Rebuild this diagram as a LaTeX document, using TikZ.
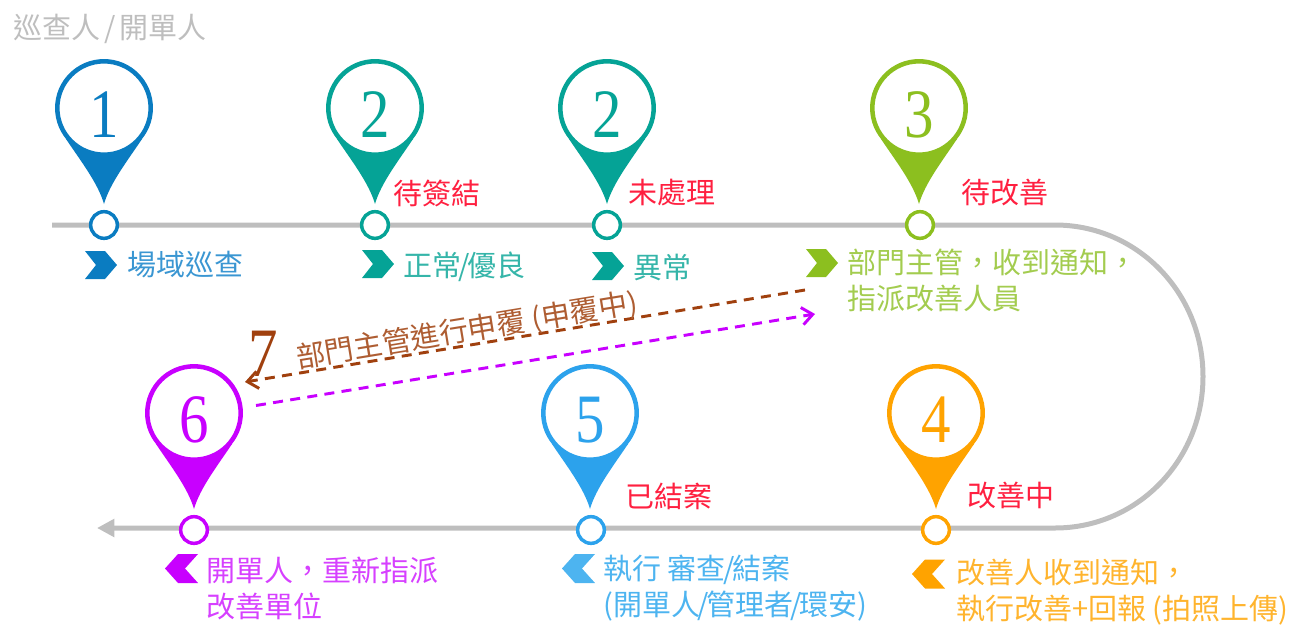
\documentclass[tikz,border=0pt]{standalone}
\usepackage{fontspec}
\usepackage{xcolor}
\setmainfont{Liberation Serif}
\newfontfamily\cjk{Noto Sans CJK TC}
\usetikzlibrary{positioning,calc,arrows.meta}
\definecolor{pinblue}{HTML}{0A7CC1}
\definecolor{pinteal}{HTML}{05A396}
\definecolor{pingreen}{HTML}{8CBF1F}
\definecolor{pinorange}{HTML}{FFA300}
\definecolor{pinsky}{HTML}{2CA2EC}
\definecolor{pinpurple}{HTML}{C800FF}
\definecolor{textblue}{HTML}{3A96D2}
\definecolor{textteal}{HTML}{35B5A9}
\definecolor{textgreen}{HTML}{A3CC4F}
\definecolor{textsky}{HTML}{4DB4F0}
\definecolor{textpurple}{HTML}{D640FF}
\definecolor{textorange}{HTML}{FFB42E}
\definecolor{appealbrown}{HTML}{A0400E}
\definecolor{statusred}{HTML}{FF2040}
\definecolor{linegray}{HTML}{BEBEBE}
\newcommand{\thinslash}{\kern-1.9pt/\kern-1.9pt}
\tikzset{
    timeline/.style={line width=3.75pt, color=linegray},
    ringdot/.style={circle, draw=#1, line width=2.6pt, fill=white, minimum size=20pt, inner sep=0pt},
    pinnum/.style={font=\fontsize{52}{52}\selectfont, text=#1, xscale=0.85, inner sep=0pt},
    cjklabel/.style={font=\cjk\fontsize{21.75}{27}\selectfont, anchor=west, inner sep=0pt},
    status/.style={cjklabel, text=statusred},
    caption/.style={cjklabel, align=left, text=#1},
    appeal/.style={line width=2.2pt, dash pattern=on 7.5pt off 5.5pt, -{Straight Barb[length=8pt,width=13pt]}}
}
\begin{document}
\begin{tikzpicture}[x=0.75pt, y=-0.75pt]
    \useasboundingbox (0,0) rectangle (1300,636);

    % Timeline
    \coordinate (lineStart) at (52,225);
    \coordinate (bendTop) at (1055,225);
    \coordinate (bendRight) at (1203,376.5);
    \coordinate (bendBottom) at (1055,528);
    \coordinate (lineEnd) at (97,528);
    \draw[timeline, -{Triangle[length=13pt,width=13pt]}] (lineStart) -- (bendTop)
        .. controls (1137,225) and (1203,292.5) .. (bendRight)
        .. controls (1203,460.5) and (1137,528) .. (bendBottom) -- (lineEnd);

    % Pins
    \foreach \id/\px/\py/\ringx/\ringy/\col/\num in {
        a/104/108/104/225/pinblue/1,
        b/375/108/375/225/pinteal/2,
        c/607/108/607/225/pinteal/2,
        d/919/108/920/225/pingreen/3,
        e/936/413/936/530/pinorange/4,
        f/590/413/591/530/pinsky/5,
        g/194/413/194/530/pinpurple/6} {
        \fill[\col] (\px-38,\py+31) .. controls (\px-24,\py+52) and (\px-6,\py+75) .. (\px,\py+96)
            .. controls (\px+6,\py+75) and (\px+24,\py+52) .. (\px+38,\py+31) -- cycle;
        \draw[\col, line width=3.4pt, fill=white] (\px,\py) circle[radius=46.7];
        \node[pinnum=\col] (num\id) at (\px,\py+7) {\num};
        \node[ringdot=\col] (ring\id) at (\ringx,\ringy) {};
    }

    % Chevrons
    \foreach \x/\y/\col in {85/265/pinblue, 362/264/pinteal, 592/266/pinteal, 806/263/pingreen} {
        \fill[\col] (\x,\y-14) -- (\x+20,\y-14) -- (\x+32,\y) -- (\x+20,\y+14) -- (\x,\y+14) -- (\x+11,\y) -- cycle;
    }
    \foreach \x/\y/\col in {198/568.5/pinpurple, 595/568.5/textsky, 945/574/pinorange} {
        \fill[\col] (\x,\y-14.5) -- (\x-20,\y-14.5) -- (\x-33,\y) -- (\x-20,\y+14.5) -- (\x,\y+14.5) -- (\x-13,\y) -- cycle;
    }

    % Title
    \node[cjklabel, text=linegray] (title) at (13,29) {巡查人 \thinslash{} 開單人};

    % Status labels
    \node[status] (stSign) at (393,193) {待簽結};
    \node[status] (stOpen) at (628,193) {未處理};
    \node[status] (stTodo) at (961,193) {待改善};
    \node[status] (stDoing) at (967,496) {改善中};
    \node[status] (stClosed) at (625,496) {已結案};

    % Captions
    \node[caption=textblue] (capPatrol) at (127,265) {場域巡查};
    \node[caption=textteal] (capNormal) at (403,267) {正常\thinslash 優良};
    \node[caption=textteal] (capAbnormal) at (633,267) {異常};
    \node[caption=textgreen] (capManager) at (847,280.5) {部門主管，收到通知，\\指派改善人員};
    \node[caption=textorange] (capWorker) at (956,592) {改善人收到通知，\\執行改善+回報 (拍照上傳)};
    \node[caption=textsky] (capReview) at (603,588) {執行 審查\thinslash 結案\\(開單人\thinslash 管理者\thinslash 環安)};
    \node[caption=textpurple] (capReassign) at (206,588) {開單人，重新指派\\改善單位};

    % Appeal arrows
    \coordinate (appealFrom) at (805,290);
    \coordinate (appealTo) at (245,382);
    \coordinate (backFrom) at (256,405.5);
    \coordinate (backTo) at (815,314);
    \draw[appeal, appealbrown] (appealFrom) -- (appealTo);
    \draw[appeal, pinpurple] (backFrom) -- (backTo);
    \node[pinnum=appealbrown] (appealNum) at (263,353.5) {7};
    \node[font=\cjk\fontsize{21.75}{26}\selectfont, text=appealbrown!85!white, rotate=9.3, inner sep=0pt] (appealText) at (467,331) {部門主管進行申覆 (申覆中)};
\end{tikzpicture}
\end{document}
